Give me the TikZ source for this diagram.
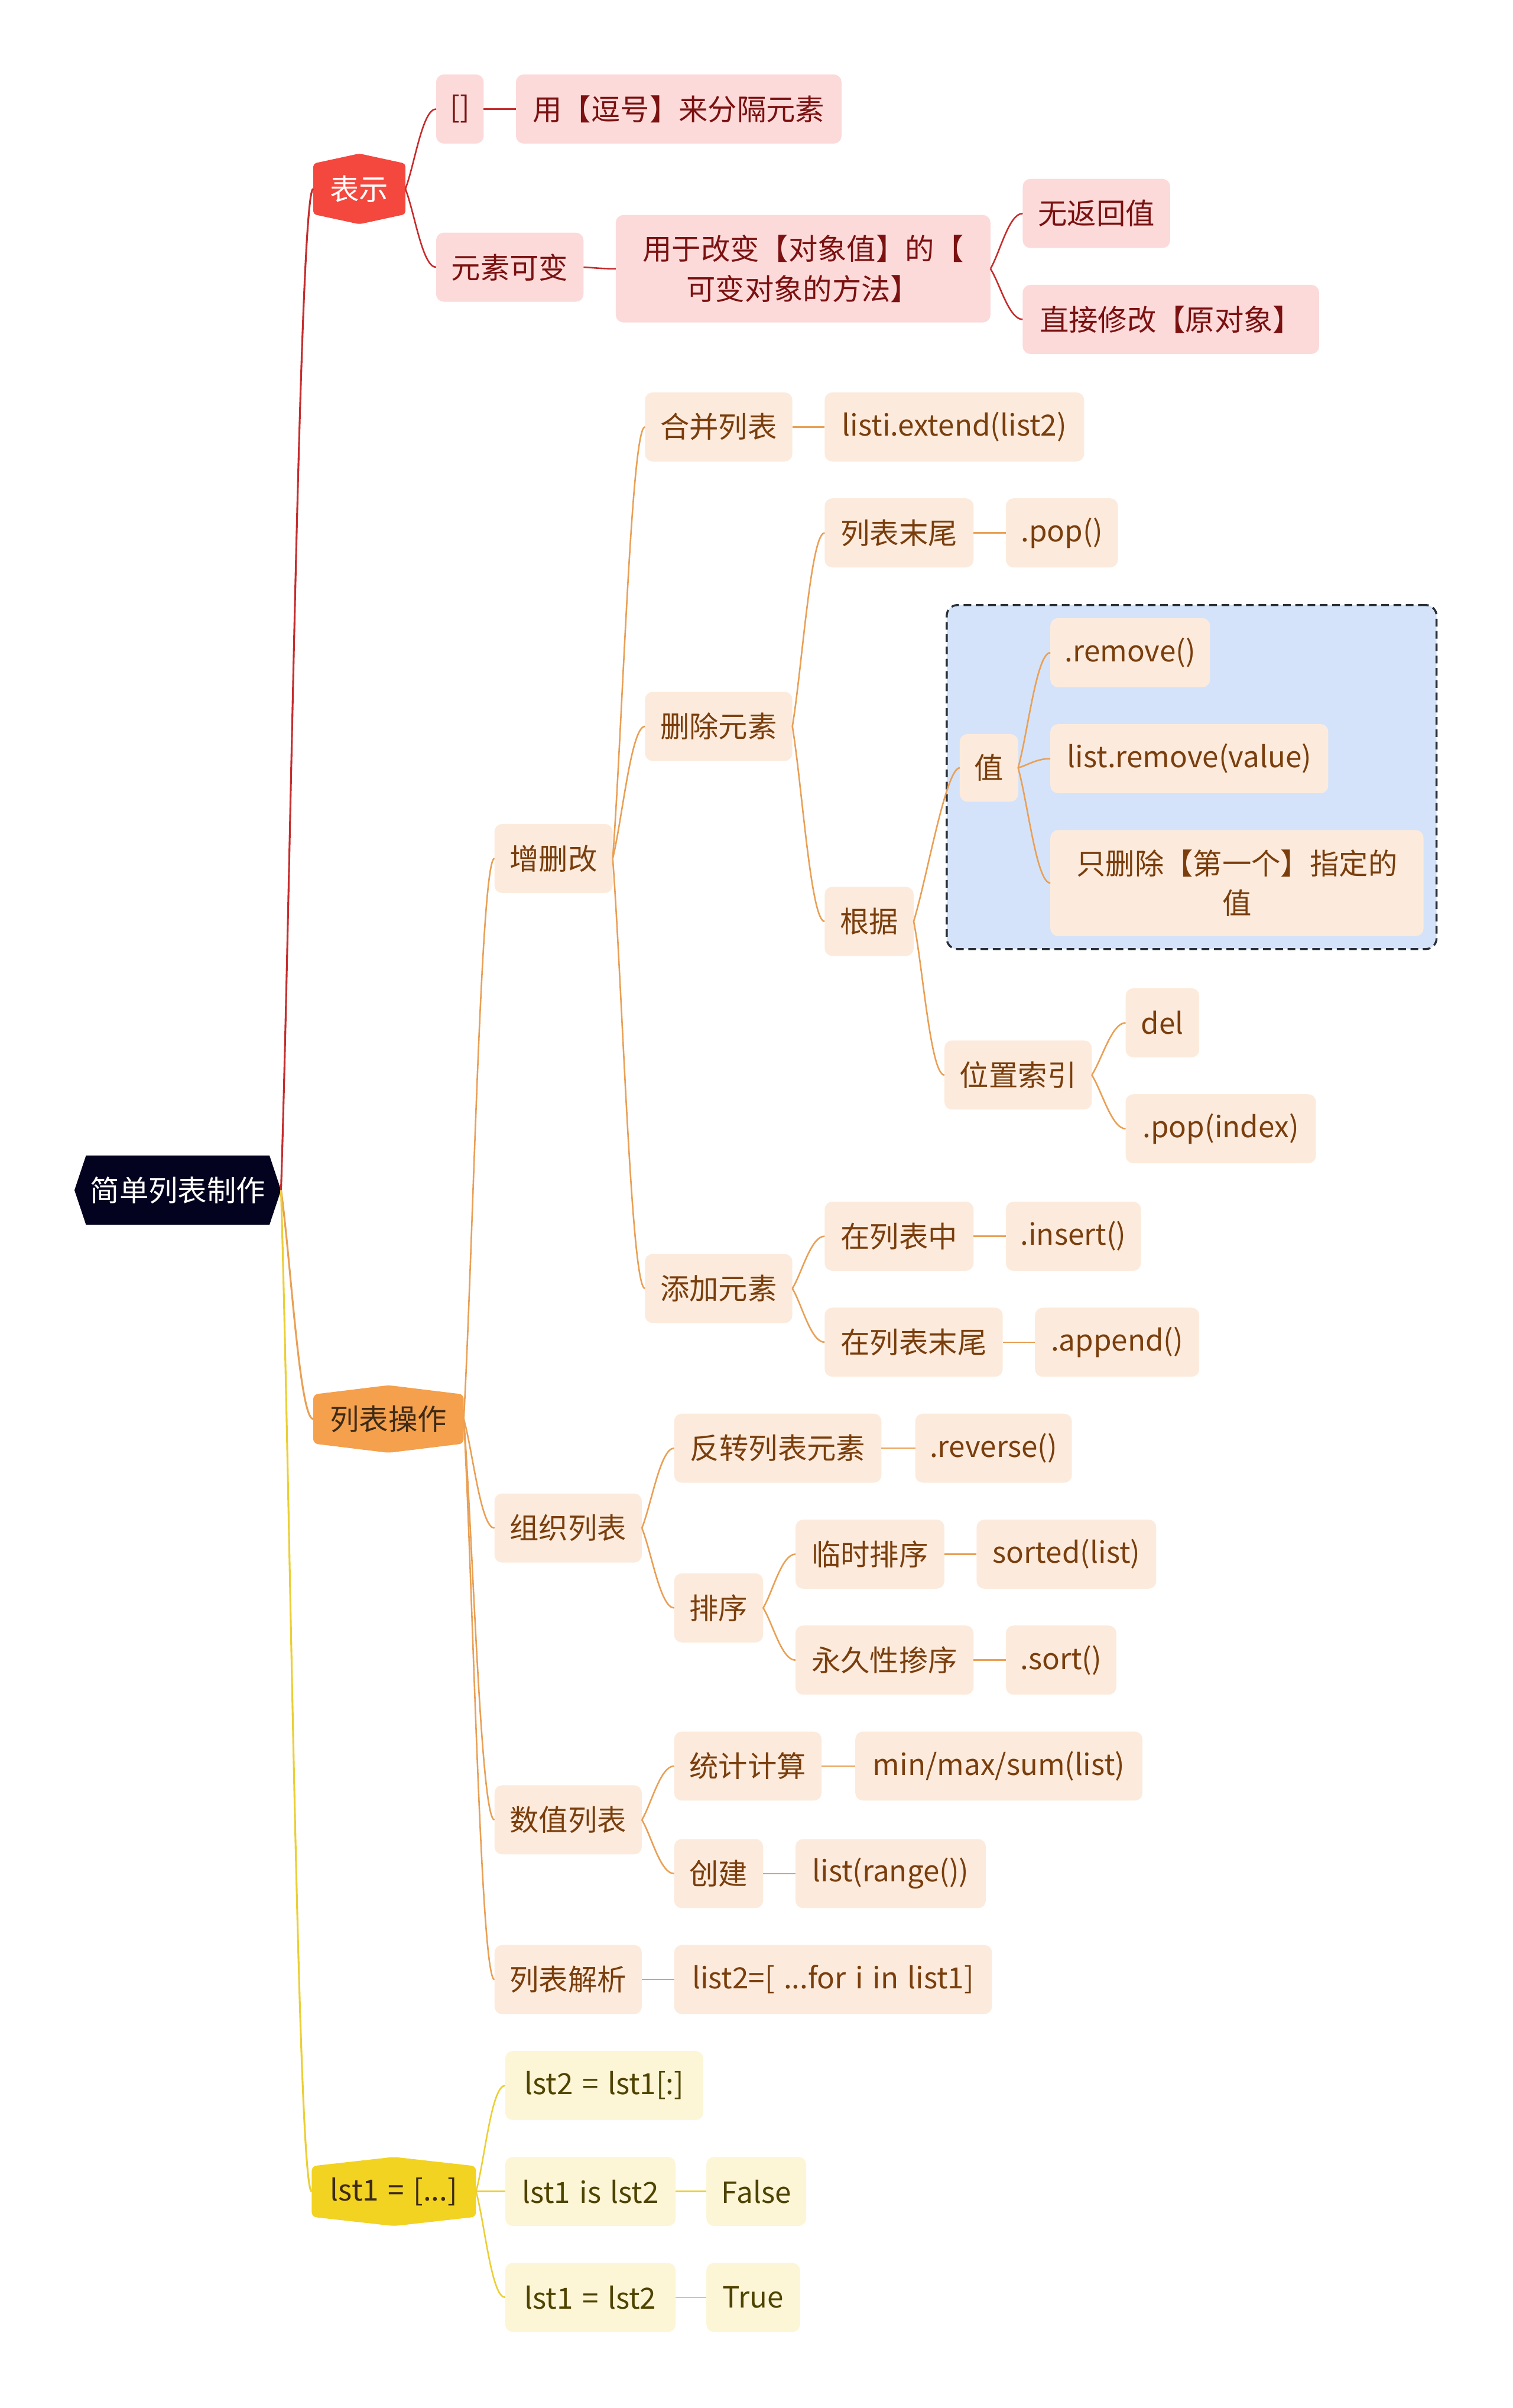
\documentclass[tikz,border=0pt]{standalone}
\usepackage{fontspec}
\setmainfont{Noto Sans CJK SC}[WordSpace=1.4]
\usetikzlibrary{backgrounds, fit, calc}

\definecolor{rootblue}{HTML}{03031F}
\definecolor{topicred}{HTML}{F4473E}
\definecolor{topicorange}{HTML}{F4A04C}
\definecolor{topicyellow}{HTML}{F2D321}
\definecolor{leafpink}{HTML}{FCDADA}
\definecolor{leafpeach}{HTML}{FCEBDC}
\definecolor{leafcream}{HTML}{FCF6D6}
\definecolor{textred}{HTML}{7B1111}
\definecolor{textbrown}{HTML}{7A3E0D}
\definecolor{textolive}{HTML}{4F4300}
\definecolor{textdark}{HTML}{3E2A17}
\definecolor{linered}{HTML}{C62D2D}
\definecolor{lineorange}{HTML}{E9A056}
\definecolor{lineyellow}{HTML}{EBCF35}
\definecolor{boxblue}{HTML}{D4E3FA}
\definecolor{boxline}{HTML}{2B2F36}

\begin{document}
\begin{tikzpicture}[x=1pt, y=-1pt,
  every node/.style={font=\fontsize{19}{26}\selectfont, outer sep=0pt, inner sep=0pt, align=center},
  leaf/.style={anchor=west, minimum height=45pt, rounded corners=5pt},
  pinkleaf/.style={leaf, fill=leafpink, text=textred},
  peachleaf/.style={leaf, fill=leafpeach, text=textbrown},
  creamleaf/.style={leaf, fill=leafcream, text=textolive},
  topic/.style={anchor=west, minimum height=45pt},
  link/.style={line width=1pt},
]
  \useasboundingbox (0,0) rectangle (985,1568);

  % Central topic
  \node[topic, minimum width=134.5pt, text=white] (root) at (48.5,775) {简单列表制作};

  % Main topics
  \node[topic, minimum width=60pt, minimum height=46pt, text=white] (biaoshi) at (204,123) {表示};
  \node[topic, minimum width=98pt, minimum height=44pt, text=textdark] (caozuo) at (204,924) {列表操作};
  \node[topic, minimum width=107pt, text=textdark] (lst) at (203,1427) {lst1 = [...]};

  % Branch: representation
  \node[pinkleaf, minimum width=31pt] (kuohao) at (284,71) {[]};
  \node[pinkleaf, minimum width=212pt] (douhao) at (336,71) {用【逗号】来分隔元素};
  \node[pinkleaf, minimum width=96pt] (kebian) at (284,174) {元素可变};
  \node[pinkleaf, minimum width=244pt, minimum height=70pt] (fangfa) at (401,175) {用于改变【对象值】的【\\可变对象的方法】};
  \node[pinkleaf, minimum width=96pt] (wufanhui) at (666,139) {无返回值};
  \node[pinkleaf, minimum width=193pt] (zhijie) at (666,208) {直接修改【原对象】};

  % Branch: list operations
  \node[peachleaf, minimum width=77pt] (zsg) at (322,559) {增删改};
  \node[peachleaf, minimum width=96pt] (zuzhi) at (322,995) {组织列表};
  \node[peachleaf, minimum width=96pt] (shuzhi) at (322,1185) {数值列表};
  \node[peachleaf, minimum width=96pt] (jiexi) at (322,1289) {列表解析};

  \node[peachleaf, minimum width=96pt] (hebing) at (420,278) {合并列表};
  \node[peachleaf, minimum width=169pt] (extend) at (537,278) {listi.extend(list2)};
  \node[peachleaf, minimum width=96pt] (shanchu) at (420,473) {删除元素};
  \node[peachleaf, minimum width=97pt] (mowei) at (537,347) {列表末尾};
  \node[peachleaf, minimum width=73pt] (pop) at (655,347) {.pop()};
  \node[peachleaf, minimum width=58pt] (genju) at (537,600) {根据};
  \node[peachleaf, minimum width=38pt, minimum height=44pt] (zhi) at (625,500) {值};
  \node[peachleaf, minimum width=104pt] (rmone) at (684,425) {.remove()};
  \node[peachleaf, minimum width=181pt] (rmtwo) at (684,494) {list.remove(value)};
  \node[peachleaf, minimum width=243pt, minimum height=69pt] (rmthree) at (684,575) {只删除【第一个】指定的\\值};
  \node[peachleaf, minimum width=96pt] (weizhi) at (615,700) {位置索引};
  \node[peachleaf, minimum width=48pt] (del) at (733,666) {del};
  \node[peachleaf, minimum width=124pt] (popidx) at (733,735) {.pop(index)};
  \node[peachleaf, minimum width=96pt] (tianjia) at (420,839) {添加元素};
  \node[peachleaf, minimum width=97pt] (zhong) at (537,805) {在列表中};
  \node[peachleaf, minimum width=88pt] (insert) at (655,805) {.insert()};
  \node[peachleaf, minimum width=116pt] (moweia) at (537,874) {在列表末尾};
  \node[peachleaf, minimum width=107pt] (append) at (674,874) {.append()};

  \node[peachleaf, minimum width=135pt] (fanzhuan) at (439,943) {反转列表元素};
  \node[peachleaf, minimum width=102pt] (reverse) at (596,943) {.reverse()};
  \node[peachleaf, minimum width=58pt] (paixu) at (439,1047) {排序};
  \node[peachleaf, minimum width=97pt] (linshi) at (518,1012) {临时排序};
  \node[peachleaf, minimum width=117pt] (sorted) at (636,1012) {sorted(list)};
  \node[peachleaf, minimum width=116pt] (yongjiu) at (518,1081) {永久性掺序};
  \node[peachleaf, minimum width=72pt] (sortm) at (655,1081) {.sort()};
  \node[peachleaf, minimum width=96pt] (tongji) at (439,1150) {统计计算};
  \node[peachleaf, minimum width=187pt] (minmax) at (557,1150) {min/max/sum(list)};
  \node[peachleaf, minimum width=58pt] (chuangjian) at (439,1220) {创建};
  \node[peachleaf, minimum width=124pt] (range) at (518,1220) {list(range())};
  \node[peachleaf, minimum width=207pt] (compr) at (439,1289) {list2=[ ...for i in list1]};

  % Branch: copies
  \node[creamleaf, minimum width=129pt] (copy) at (329,1358) {lst2 = lst1[:]};
  \node[creamleaf, minimum width=111pt] (is) at (329,1427) {lst1 is lst2};
  \node[creamleaf, minimum width=65pt] (false) at (460,1427) {False};
  \node[creamleaf, minimum width=111pt] (eq) at (329,1496) {lst1 = lst2};
  \node[creamleaf, minimum width=61pt] (true) at (460,1496) {True};

  % Shapes behind the topics
  \begin{scope}[on background layer]
    \fill[rootblue] (root.west) -- ([xshift=7.5pt]root.north west) -- ([xshift=-7.5pt]root.north east)
      -- (root.east) -- ([xshift=-7.5pt]root.south east) -- ([xshift=7.5pt]root.south west) -- cycle;
    \fill[topicred, rounded corners=2pt] ([yshift=-6.5pt]biaoshi.north west) -- (biaoshi.north)
      -- ([yshift=-6.5pt]biaoshi.north east) -- ([yshift=6.5pt]biaoshi.south east) -- (biaoshi.south)
      -- ([yshift=6.5pt]biaoshi.south west) -- cycle;
    \fill[topicorange, rounded corners=3pt] ([yshift=-6pt]caozuo.north west) -- (caozuo.north)
      -- ([yshift=-6pt]caozuo.north east) -- ([yshift=6pt]caozuo.south east) -- (caozuo.south)
      -- ([yshift=6pt]caozuo.south west) -- cycle;
    \fill[topicyellow, rounded corners=3pt] ([yshift=-6pt]lst.north west) -- (lst.north)
      -- ([yshift=-6pt]lst.north east) -- ([yshift=6pt]lst.south east) -- (lst.south)
      -- ([yshift=6pt]lst.south west) -- cycle;
    % boundary round the value branch
    \node[fit=(zhi)(rmone)(rmthree), inner sep=8.5pt, fill=boxblue, draw=boxline,
      dash pattern=on 5pt off 3pt, line width=1.3pt, rounded corners=7pt] (valuebox) {};
  \end{scope}

  % Connectors
  \foreach \b/\c in {biaoshi/linered, caozuo/lineorange, lst/lineyellow}
    \draw[link, line width=1.2pt, \c]
      (root.east) .. controls ($(root.east)!0.3!(\b.west)$) and ([xshift=-9pt]\b.west) .. (\b.west);

  \foreach \a/\b in {biaoshi/kuohao, biaoshi/kebian, kuohao/douhao, kebian/fangfa,
                     fangfa/wufanhui, fangfa/zhijie}
    \draw[link, linered] (\a.east) .. controls ($(\a.east)!0.3!(\b.west)$) and ([xshift=-9pt]\b.west) .. (\b.west);

  \foreach \a/\b in {caozuo/zsg, caozuo/zuzhi, caozuo/shuzhi, caozuo/jiexi,
                     zsg/hebing, zsg/shanchu, zsg/tianjia, hebing/extend,
                     shanchu/mowei, shanchu/genju, mowei/pop,
                     genju/zhi, genju/weizhi, zhi/rmone, zhi/rmtwo, zhi/rmthree,
                     weizhi/del, weizhi/popidx,
                     tianjia/zhong, tianjia/moweia, zhong/insert, moweia/append,
                     zuzhi/fanzhuan, zuzhi/paixu, fanzhuan/reverse,
                     paixu/linshi, paixu/yongjiu, linshi/sorted, yongjiu/sortm,
                     shuzhi/tongji, shuzhi/chuangjian, tongji/minmax, chuangjian/range,
                     jiexi/compr}
    \draw[link, lineorange] (\a.east) .. controls ($(\a.east)!0.3!(\b.west)$) and ([xshift=-9pt]\b.west) .. (\b.west);

  \foreach \a/\b in {lst/copy, lst/is, lst/eq, is/false, eq/true}
    \draw[link, lineyellow] (\a.east) .. controls ($(\a.east)!0.3!(\b.west)$) and ([xshift=-9pt]\b.west) .. (\b.west);
\end{tikzpicture}
\end{document}
